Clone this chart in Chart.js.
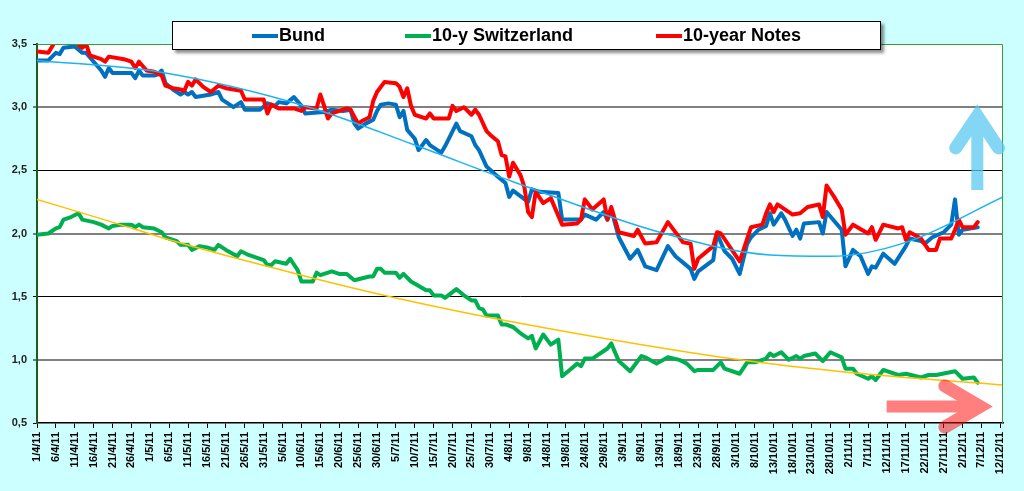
<!DOCTYPE html>
<html>
<head>
<meta charset="utf-8">
<script src="https://cdn.jsdelivr.net/npm/chart.js"></script>
<style>
    body { margin: 0; background: #ccffff; }
    #wrap { position: relative; width: 1024px; height: 491px; background: #ccffff; }
    #legend {
        position: absolute; left: 172px; top: 21px; width: 707px; height: 27px;
        background: #fff; border: 1px solid #000; box-shadow: 3px 3px 3px rgba(0, 0, 0, 0.45);
        font: bold 18px "Liberation Sans", Arial, sans-serif; color: #000;
    }
    .LEG_Item { position: absolute; top: 2px; line-height: 23px; white-space: nowrap; }
    .LEG_Line { display: inline-block; width: 26px; height: 4px; vertical-align: middle; margin-right: 1px; }
</style>
</head>
<body>
<div id="wrap">
    <canvas id="CHART_Yields"></canvas>
    <div id="legend">
        <span class="LEG_Item" style="left:79px"><span class="LEG_Line" style="background:#0070c0"></span>Bund</span>
        <span class="LEG_Item" style="left:232px"><span class="LEG_Line" style="background:#00b050"></span>10-y Switzerland</span>
        <span class="LEG_Item" style="left:483px"><span class="LEG_Line" style="background:#ff0000"></span>10-year Notes</span>
    </div>
</div>
<script>
// day offsets from 1 April 2011
const startDate = new Date(2011, 3, 1);

const tickDays = [0, 5, 10, 15, 20, 25, 30, 35, 40, 45, 50, 55, 60, 65, 70, 75, 80, 85, 90, 95,
    100, 105, 110, 115, 120, 125, 130, 135, 140, 145, 150, 155, 160, 165, 170, 175, 180, 185, 190, 195,
    200, 205, 210, 215, 220, 225, 230, 235, 240, 245, 250, 255];

const yTicks = [0.5, 1.0, 1.5, 2.0, 2.5, 3.0, 3.5];

const bundDays = [0, 3, 5, 6, 7, 10, 12, 13, 15, 17, 18, 19, 20, 25, 26, 27, 28, 31, 32, 33,
    34, 36, 38, 39, 40, 41, 42, 46, 48, 49, 52, 54, 55, 59, 61, 63, 64, 66, 68, 70,
    71, 75, 76, 78, 81, 83, 84, 85, 87, 89, 90, 91, 93, 95, 96, 97, 98, 100, 101, 103,
    104, 107, 108, 111, 112, 115, 116, 117, 119, 122, 124, 125, 126, 130, 131, 133, 138, 139, 144, 145,
    148, 150, 151, 152, 154, 157, 159, 161, 164, 167, 169, 173, 174, 175, 179, 180, 182, 184, 186, 188,
    189, 191, 193, 194, 195, 197, 198, 200, 201, 202, 203, 207, 208, 209, 213, 214, 216, 218, 220, 221,
    222, 224, 227, 230, 231, 234, 235, 237, 240, 242, 243, 244, 245, 249];
const bundYield = [3.37, 3.37, 3.43, 3.42, 3.47, 3.48, 3.43, 3.43, 3.36, 3.29, 3.24, 3.31, 3.27, 3.27, 3.23, 3.29, 3.25, 3.25, 3.26, 3.29,
    3.19, 3.14, 3.10, 3.12, 3.10, 3.12, 3.08, 3.10, 3.12, 3.06, 3.00, 3.04, 2.98, 2.98, 3.03, 3.01, 3.04, 3.03, 3.08, 3.01,
    2.95, 2.96, 2.96, 2.98, 2.97, 2.98, 2.87, 2.83, 2.87, 2.90, 2.97, 3.02, 3.03, 3.02, 2.92, 2.97, 2.82, 2.75, 2.66, 2.74,
    2.70, 2.64, 2.69, 2.87, 2.81, 2.77, 2.70, 2.66, 2.53, 2.45, 2.40, 2.29, 2.34, 2.25, 2.35, 2.33, 2.32, 2.11, 2.11, 2.15,
    2.11, 2.17, 2.11, 2.19, 1.97, 1.80, 1.87, 1.74, 1.71, 1.90, 1.82, 1.72, 1.64, 1.70, 1.79, 2.00, 1.86, 1.80, 1.68, 1.92,
    1.97, 2.03, 2.06, 2.16, 2.07, 2.16, 2.11, 1.98, 2.03, 1.96, 2.08, 2.09, 2.00, 2.17, 2.03, 1.74, 1.87, 1.82, 1.68, 1.74,
    1.73, 1.84, 1.76, 1.90, 1.96, 1.94, 1.92, 1.97, 2.01, 2.07, 2.27, 1.99, 2.03, 2.05];

const swissDays = [0, 3, 5, 6, 7, 9, 11, 12, 15, 17, 19, 20, 22, 25, 26, 27, 28, 31, 33, 34,
    37, 38, 40, 41, 43, 45, 47, 48, 50, 53, 54, 56, 60, 61, 62, 63, 66, 67, 69, 70,
    73, 74, 75, 78, 80, 82, 84, 88, 89, 90, 91, 92, 95, 96, 97, 99, 103, 104, 105, 107,
    108, 111, 113, 115, 116, 117, 118, 119, 122, 123, 124, 126, 128, 130, 131, 132, 134, 136, 138, 139,
    141, 143, 144, 145, 147, 151, 152, 154, 157, 160, 161, 164, 167, 170, 172, 174, 175, 179, 181, 182,
    186, 188, 190, 193, 194, 195, 197, 199, 201, 202, 203, 206, 208, 210, 213, 214, 216, 217, 220, 221,
    222, 224, 228, 230, 234, 236, 238, 243, 245, 248, 249];
const swissYield = [1.99, 2.00, 2.04, 2.05, 2.11, 2.13, 2.16, 2.11, 2.09, 2.07, 2.04, 2.06, 2.07, 2.07, 2.05, 2.07, 2.05, 2.04, 2.01, 1.97,
    1.94, 1.91, 1.91, 1.87, 1.90, 1.89, 1.87, 1.91, 1.87, 1.82, 1.86, 1.83, 1.79, 1.75, 1.75, 1.78, 1.76, 1.80, 1.71, 1.62,
    1.62, 1.69, 1.67, 1.70, 1.68, 1.68, 1.63, 1.66, 1.66, 1.72, 1.72, 1.69, 1.69, 1.65, 1.68, 1.62, 1.55, 1.55, 1.51, 1.51,
    1.49, 1.56, 1.51, 1.47, 1.47, 1.41, 1.40, 1.35, 1.35, 1.28, 1.28, 1.26, 1.21, 1.17, 1.19, 1.09, 1.20, 1.12, 1.16, 0.87,
    0.92, 0.97, 0.95, 1.01, 1.01, 1.09, 1.13, 0.99, 0.91, 1.03, 1.02, 0.97, 1.02, 1.00, 0.97, 0.91, 0.92, 0.92, 0.98, 0.93,
    0.89, 0.98, 0.98, 1.01, 1.05, 1.03, 1.06, 1.00, 1.03, 1.01, 1.03, 1.05, 0.99, 1.06, 1.02, 0.93, 0.93, 0.89, 0.85, 0.87,
    0.84, 0.92, 0.88, 0.89, 0.86, 0.88, 0.88, 0.91, 0.85, 0.86, 0.82];

const notesDays = [0, 3, 5, 7, 10, 11, 12, 13, 14, 17, 18, 19, 23, 25, 26, 27, 29, 31, 33, 34,
    36, 38, 39, 40, 41, 42, 43, 44, 46, 48, 50, 52, 54, 55, 58, 60, 61, 62, 64, 68,
    70, 71, 74, 75, 76, 77, 78, 80, 82, 83, 85, 86, 88, 89, 90, 92, 95, 96, 97, 98,
    99, 100, 103, 104, 105, 109, 110, 111, 113, 115, 116, 117, 119, 120, 122, 123, 124, 125, 126, 128,
    129, 130, 131, 132, 134, 136, 139, 143, 144, 145, 147, 150, 151, 152, 154, 158, 159, 161, 164, 167,
    171, 173, 174, 175, 179, 180, 181, 186, 189, 192, 193, 194, 195, 196, 200, 202, 204, 207, 208, 209,
    211, 213, 214, 216, 220, 221, 222, 224, 228, 229, 230, 231, 234, 236, 238, 239, 242, 243, 244, 245,
    248, 249];
const notesYield = [3.44, 3.43, 3.53, 3.55, 3.56, 3.49, 3.47, 3.50, 3.41, 3.38, 3.36, 3.40, 3.38, 3.36, 3.31, 3.36, 3.29, 3.28, 3.25, 3.17,
    3.15, 3.14, 3.13, 3.20, 3.17, 3.22, 3.19, 3.16, 3.12, 3.17, 3.15, 3.14, 3.13, 3.06, 3.06, 3.06, 2.95, 3.02, 2.99, 2.99,
    2.97, 3.00, 2.99, 3.10, 3.01, 2.91, 2.95, 2.97, 2.99, 2.98, 2.87, 2.89, 2.92, 3.05, 3.12, 3.20, 3.19, 3.16, 3.08, 3.15,
    3.01, 2.94, 2.91, 2.95, 2.91, 2.91, 3.01, 2.97, 3.00, 2.94, 2.98, 2.94, 2.81, 2.78, 2.73, 2.62, 2.61, 2.45, 2.56, 2.46,
    2.37, 2.17, 2.13, 2.33, 2.24, 2.28, 2.07, 2.08, 2.11, 2.27, 2.19, 2.27, 2.11, 2.21, 2.01, 1.98, 2.03, 1.92, 1.93, 2.09,
    1.93, 1.92, 1.72, 1.80, 1.90, 2.01, 2.00, 1.78, 2.05, 2.07, 2.16, 2.23, 2.17, 2.23, 2.15, 2.16, 2.21, 2.23, 2.13, 2.38,
    2.29, 2.19, 1.99, 2.07, 2.00, 2.05, 1.95, 2.07, 2.04, 2.05, 1.95, 2.01, 1.96, 1.87, 1.87, 1.96, 1.96, 2.03, 2.11, 2.05,
    2.05, 2.09];

// trend lines
const bundTrendDays = [0, 32, 72, 100, 126, 166, 194, 210, 230, 255.7];
const bundTrendValues = [3.37, 3.28, 3.00, 2.70, 2.41, 2.00, 1.83, 1.82, 1.93, 2.29];
const swissTrendDays = [0, 21, 35, 70, 95, 126, 186, 215, 255.7];
const swissTrendValues = [2.27, 2.08, 1.95, 1.67, 1.49, 1.30, 1.00, 0.90, 0.80];

function toPoints(days, values) {
    let pts = [];
    for (let i = 0; i < days.length; i++) {
        pts.push({ x: days[i], y: values[i] });
    }
    return pts;
}

function dayLabel(day) {
    let d = new Date(startDate.getTime());
    d.setDate(d.getDate() + day);
    return `${d.getDate()}/${d.getMonth() + 1}/11`;
}

const FONT = 'Liberation Sans';

// white plot area and green frame
const plotFrame = {
    id: 'plotFrame',
    beforeDraw(chart) {
        const { ctx, chartArea: a } = chart;
        ctx.save();
        ctx.fillStyle = '#ffffff';
        ctx.fillRect(a.left, a.top, a.right - a.left, a.bottom - a.top);
        ctx.restore();
    },
    afterDatasetsDraw(chart) {
        const { ctx, chartArea: a } = chart;
        ctx.save();
        ctx.strokeStyle = '#3c9a3c';
        ctx.lineWidth = 1;
        ctx.beginPath();
        ctx.moveTo(a.left, a.top + 0.5);
        ctx.lineTo(a.right - 0.5, a.top + 0.5);
        ctx.lineTo(a.right - 0.5, a.bottom);
        ctx.stroke();
        ctx.restore();
    }
};

// the two hand drawn arrows, placed in data units
const arrows = [
    { shaft: [248.9, 2.344], tip: [248.9, 2.93], armA: [243.2, 2.677], armB: [254.5, 2.677], color: 'rgba(90,200,240,0.75)' },
    { shaft: [224.9, 0.631], tip: [249.6, 0.631], armA: [240.3, 0.793], armB: [240.3, 0.468], color: 'rgba(255,0,0,0.5)' }
];

const arrowPlugin = {
    id: 'arrowPlugin',
    afterDraw(chart) {
        const ctx = chart.ctx;
        const xs = chart.scales.x;
        const ys = chart.scales.y;
        const px = (p) => [xs.getPixelForValue(p[0]), ys.getPixelForValue(p[1])];
        arrows.forEach(ar => {
            let s = px(ar.shaft), t = px(ar.tip), a = px(ar.armA), b = px(ar.armB);
            ctx.save();
            // draw in an offscreen layer so overlaps do not darken
            let layer = document.createElement('canvas');
            layer.width = chart.width;
            layer.height = chart.height;
            let lc = layer.getContext('2d');
            lc.strokeStyle = '#000';
            lc.lineWidth = 12;
            lc.lineCap = 'butt';
            lc.beginPath();
            lc.moveTo(s[0], s[1]);
            lc.lineTo(t[0], t[1]);
            lc.stroke();
            lc.lineWidth = 13;
            lc.lineCap = 'round';
            lc.lineJoin = 'miter';
            lc.beginPath();
            lc.moveTo(a[0], a[1]);
            lc.lineTo(t[0], t[1]);
            lc.lineTo(b[0], b[1]);
            lc.stroke();
            lc.globalCompositeOperation = 'source-in';
            lc.fillStyle = ar.color;
            lc.fillRect(0, 0, layer.width, layer.height);
            ctx.drawImage(layer, 0, 0);
            ctx.restore();
        });
    }
};

let chartHtml = document.getElementById('CHART_Yields').getContext('2d');

let data = {
    datasets: [{
        label: 'Bund trend',
        data: toPoints(bundTrendDays, bundTrendValues),
        borderColor: '#1ab4f0',
        borderWidth: 1.5,
        cubicInterpolationMode: 'monotone',
        order: 0
    }, {
        label: 'Switzerland trend',
        data: toPoints(swissTrendDays, swissTrendValues),
        borderColor: '#ffc000',
        borderWidth: 1.5,
        cubicInterpolationMode: 'monotone',
        order: 0
    }, {
        label: '10-year Notes',
        data: toPoints(notesDays, notesYield),
        borderColor: '#ff0000',
        borderWidth: 4,
        order: 1
    }, {
        label: '10-y Switzerland',
        data: toPoints(swissDays, swissYield),
        borderColor: '#00b050',
        borderWidth: 4,
        order: 2
    }, {
        label: 'Bund',
        data: toPoints(bundDays, bundYield),
        borderColor: '#0070c0',
        borderWidth: 4,
        order: 3
    }]
};

let chart = new Chart(chartHtml, {
    type: 'line',
    data: data,
    plugins: [plotFrame, arrowPlugin],
    options: {
        responsive: true,
        maintainAspectRatio: false,
        animation: false,
        devicePixelRatio: 1,
        layout: { padding: { top: 44, right: 21, left: 0, bottom: 0 } },
        elements: {
            point: { radius: 0 },
            line: { tension: 0, borderJoinStyle: 'round', borderCapStyle: 'round' }
        },
        datasets: { line: { clip: 0 } },
        plugins: {
            legend: { display: false },
            tooltip: { enabled: false }
        },
        scales: {
            x: {
                type: 'linear',
                min: 0,
                max: 255.7,
                afterBuildTicks: (scale) => {
                    scale.ticks = tickDays.map(v => ({ value: v }));
                },
                afterFit: (scale) => { scale.height = 68; },
                grid: { drawOnChartArea: false, tickLength: 5, color: '#000', tickColor: '#000', tickWidth: 1 },
                border: { color: '#000', width: 1.5 },
                ticks: {
                    autoSkip: false,
                    maxRotation: 90,
                    minRotation: 90,
                    padding: 4,
                    color: '#000',
                    font: { family: FONT, size: 11, weight: 'bold' },
                    callback: (v) => dayLabel(v)
                }
            },
            y: {
                min: 0.5,
                max: 3.5,
                afterBuildTicks: (scale) => {
                    scale.ticks = yTicks.map(v => ({ value: v }));
                },
                afterFit: (scale) => { scale.width = 37; },
                grid: {
                    tickLength: 4,
                    tickColor: '#000',
                    tickWidth: 1,
                    color: (ctx) => {
                        let v = ctx.tick ? ctx.tick.value : 0;
                        if (v <= 0.5 || v >= 3.5) return 'rgba(0,0,0,0)';
                        return Math.abs(v - Math.round(v)) < 1e-6 ? '#808080' : '#000000';
                    },
                    lineWidth: (ctx) => {
                        let v = ctx.tick ? ctx.tick.value : 0;
                        return Math.abs(v - Math.round(v)) < 1e-6 ? 2 : 1;
                    }
                },
                border: { color: '#1d5c1d', width: 2 },
                ticks: {
                    padding: 6,
                    color: '#222',
                    font: { family: FONT, size: 11, weight: 'bold' },
                    callback: (v) => v.toFixed(1).replace('.', ',')
                }
            }
        }
    }
});
</script>
</body>
</html>
